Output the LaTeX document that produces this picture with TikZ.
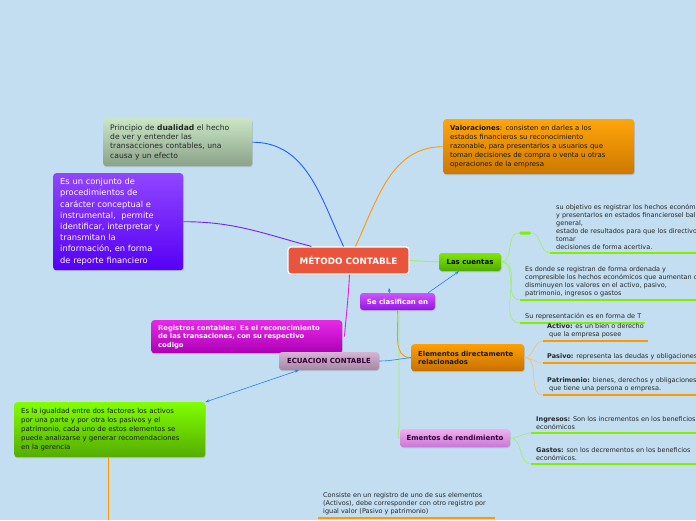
\documentclass[tikz,border=0pt]{standalone}
\usepackage{fontspec}
\setmainfont{DejaVu Sans}
\usetikzlibrary{calc,shadows,arrows.meta}

\definecolor{fondo}{RGB}{194,222,240}
\definecolor{rojo}{RGB}{232,85,60}
\definecolor{azul}{RGB}{32,96,255}
\definecolor{azulclaro}{RGB}{48,128,224}
\definecolor{violeta}{RGB}{122,32,240}
\definecolor{naranja}{RGB}{255,153,0}
\definecolor{naranjaclaro}{RGB}{248,192,112}
\definecolor{verde}{RGB}{128,240,0}
\definecolor{verdeclaro}{RGB}{160,240,96}
\definecolor{magenta}{RGB}{220,30,230}

\tikzset{
	caja/.style={rounded corners=3pt, anchor=north west, align=left, inner xsep=7pt, inner ysep=3pt,
		drop shadow={opacity=0.3, shadow xshift=0.6pt, shadow yshift=-1pt},
		font=\fontsize{6.9}{9}\selectfont},
	tema/.style={rounded corners=3pt, minimum height=18pt, inner sep=0pt,
		drop shadow={opacity=0.3, shadow xshift=0.6pt, shadow yshift=-1pt},
		font=\bfseries\fontsize{7}{8}\selectfont},
	nota/.style={anchor=south west, align=left, inner sep=0pt, text=black!85,
		font=\fontsize{6.5}{8}\selectfont},
	subraya/.style={line width=2pt},
	rama/.style={line width=0.6pt},
	enlace/.style={line width=0.9pt},
}

\begin{document}
\begin{tikzpicture}[x=1pt, y=-1pt]
	%%%%% START %%%%%
	
	\fill[fondo] (0,0) rectangle (696,520);
	\useasboundingbox (0,0) rectangle (696,520);
	
	%%%%% centro %%%%%
	\node[rounded corners=3pt, draw=white, line width=1.2pt, fill=rojo, text=white, minimum width=121pt, minimum height=27pt, inner sep=0pt,
		drop shadow={opacity=0.3, shadow xshift=0.6pt, shadow yshift=-1pt}, font=\bfseries\fontsize{8.8}{9}\selectfont] (metodo) at (348.5,260.5) {MÉTODO CONTABLE};
	
	%%%%% cajas %%%%%
	\node[caja, top color={rgb,255:red,202;green,230;blue,198}, bottom color={rgb,255:red,138;green,162;blue,136}, text=black!85, minimum width=147pt, minimum height=48pt, text width=135pt,
		font=\fontsize{7.6}{9.3}\selectfont] (dual) at (103,118) {Principio de \textbf{dualidad} el hecho\\de ver y entender las\\transacciones contables, una\\causa y un efecto};
	
	\node[caja, top color={rgb,255:red,145;green,70;blue,255}, bottom color={rgb,255:red,85;green,0;blue,245}, text=white, minimum width=126pt, minimum height=97pt, text width=116pt,
		font=\fontsize{8.3}{11.2}\selectfont] (conjunto) at (53,173) {Es un conjunto de\\procedimientos de\\carácter conceptual e\\instrumental,\ \ permite\\identificar, interpretar y\\transmitan la\\información, en forma\\de reporte financiero};
	
	\node[caja, top color={rgb,255:red,255;green,165;blue,10}, bottom color={rgb,255:red,205;green,120;blue,0}, text=black!90, minimum width=189pt, minimum height=55pt, text width=177pt] (valor) at (443,119) {\textbf{Valoraciones}: consisten en darles a los\\estados financieros su reconocimiento\\razonable, para presentarlos a usuarios que\\toman decisiones de compra o venta u otras\\operaciones de la empresa};
	
	\node[caja, top color={rgb,255:red,232;green,40;blue,232}, bottom color={rgb,255:red,172;green,0;blue,182}, text=white, minimum width=189pt, minimum height=33pt, text width=177pt,
		font=\bfseries\fontsize{6.8}{8.5}\selectfont] (registros) at (151,320) {Registros contables: Es el reconocimiento\\de las transaciones, con su respectivo\\codigo};
	
	\node[caja, top color={rgb,255:red,128;green,255;blue,0}, bottom color={rgb,255:red,85;green,172;blue,0}, text=black!90, minimum width=189pt, minimum height=55pt, text width=177pt] (igualdad) at (14,402) {Es la igualdad entre dos factores los activos\\por una parte y por otra los pasivos y el\\patrimonio, cada uno de estos elementos se\\puede analizarse y generar recomendaciones\\en la gerencia};
	
	\node[caja, top color={rgb,255:red,255;green,160;blue,0}, bottom color={rgb,255:red,200;green,112;blue,0}, text=black!90, minimum width=111pt, minimum height=27pt, text width=99pt,
		font=\bfseries\fontsize{6.9}{8.5}\selectfont] (elementos) at (411,344) {Elementos directamente\\relacionados};
	
	%%%%% temas %%%%%
	\node[tema, top color={rgb,255:red,128;green,232;blue,0}, bottom color={rgb,255:red,80;green,172;blue,0}, text=black, minimum width=62pt] (cuentas) at (470,262) {Las cuentas};
	\node[tema, top color={rgb,255:red,205;green,85;blue,255}, bottom color={rgb,255:red,150;green,20;blue,230}, text=white, minimum width=75pt, minimum height=17pt] (clasif) at (397.5,301.5) {Se clasifican en};
	\node[tema, top color={rgb,255:red,212;green,182;blue,212}, bottom color={rgb,255:red,165;green,135;blue,165}, text=violet!40!black, minimum width=100pt] (ecuacion) at (329,361) {ECUACION CONTABLE};
	\node[tema, top color={rgb,255:red,242;green,175;blue,242}, bottom color={rgb,255:red,200;green,120;blue,212}, text=violet!40!black, minimum width=110pt] (rendim) at (455,438) {Ementos de rendimiento};
	
	\node[rounded corners=1.5pt, fill=verde, minimum width=12pt, minimum height=3pt, inner sep=0pt] (marca) at (525,233) {};
	
	%%%%% enlaces del centro %%%%%
	\draw[enlace, azul] (dual.east) to[out=0, in=115] ($(metodo.north)+(-5,0)$);
	\draw[enlace, violeta] (conjunto.east) to[out=0, in=165] ($(metodo.north west)+(24,0)$);
	\draw[enlace, naranja] ($(metodo.north)+(7,0)$) to[out=65, in=180] (valor.west);
	\draw[enlace, verdeclaro] (metodo.east) -- (cuentas.west);
	\draw[enlace, magenta] ($(metodo.south)+(1,0)$) to[out=-93, in=85] ($(registros.east)+(2,0)$);
	
	\coordinate (punta) at (389,288);
	\draw[rama, azulclaro, -{Stealth[length=4pt]}] ($(clasif.north)+(-8,0)$) -- (punta);
	\draw[rama, azulclaro, -{Stealth[length=4pt]}] ($(clasif.north east)+(-7,0)$) -- ($(cuentas.south)+(-11,0)$);
	\draw[enlace, naranja] ($(clasif.south)+(0,0)$) to[out=-85, in=180] (elementos.west);
	\draw[enlace, verdeclaro] ($(clasif.south)+(1.5,0)$) -- ++(0,118) to[out=-90, in=180] (rendim.west);
	\draw[rama, azulclaro] (ecuacion.east) to[out=0, in=185] (elementos.west);
	\draw[rama, azulclaro, {Stealth[length=4pt]}-{Stealth[length=4pt]}] (igualdad.north east) -- ($(ecuacion.south west)+(20,0)$);
	\draw[enlace, naranja] ($(igualdad.south west)+(94,0)$) -- (108,520);
	
	%%%%% las cuentas %%%%%
	\coordinate (c1) at (550,253);
	\coordinate (c2) at (520,300);
	\coordinate (c3) at (520,323);
	\draw[rama, verdeclaro] (cuentas.east) to[out=0, in=180] (marca.west);
	\draw[rama, verdeclaro] (marca.east) to[out=0, in=180] (c1);
	\draw[rama, verdeclaro] (cuentas.east) to[out=0, in=180] (c2);
	\draw[rama, verdeclaro] (cuentas.east) to[out=0, in=180] (c3);
	\draw[subraya, verde] (c1) -- (696,253);
	\draw[subraya, verde] (c2) -- (696,300);
	\draw[subraya, verde] (c3) -- (645,323);
	\node[nota] (n1) at (556,250) {su objetivo es registrar los hechos económicos\\y presentarlos en estados financierosel balance\\general,\\estado de resultados para que los directivos\\tomar\\decisiones de forma acertiva.};
	\node[nota] (n2) at (525,297) {Es donde se registran de forma ordenada y\\compresible los hechos económicos que aumentan o\\disminuyen los valores en el activo, pasivo,\\patrimonio, ingresos o gastos};
	\node[nota] (n3) at (525,320) {Su representación es en forma de T};
	
	%%%%% elementos %%%%%
	\coordinate (e1) at (543,341);
	\coordinate (e2) at (543,363);
	\coordinate (e3) at (543,395);
	\foreach \e in {e1,e2,e3}
		\draw[rama, naranjaclaro] (elementos.east) to[out=0, in=180] (\e);
	\draw[subraya, naranja] (e1) -- (648,341);
	\draw[subraya, naranja] (e2) -- (696,363);
	\draw[subraya, naranja] (e3) -- (696,395);
	\node[nota] (activo) at (547,338) {\textbf{Activo:} es un bien o derecho\\\hspace*{2pt}que la empresa posee};
	\node[nota] (pasivo) at (547,360) {\textbf{Pasivo:} representa las deudas y obligaciones};
	\node[nota] (patrim) at (547,392) {\textbf{Patrimonio:} bienes, derechos y obligaciones\\\hspace*{2pt}que tiene una persona o empresa.};
	
	%%%%% rendimiento %%%%%
	\coordinate (r1) at (531,433);
	\coordinate (r2) at (531,464);
	\draw[rama, verdeclaro] (rendim.east) to[out=0, in=180] (r1);
	\draw[rama, verdeclaro] (rendim.east) to[out=0, in=180] (r2);
	\draw[subraya, verde] (r1) -- (696,433);
	\draw[subraya, verde] (r2) -- (696,464);
	\node[nota] (ingresos) at (536,430) {\textbf{Ingresos:} Son los incrementos en los beneficios\\económicos};
	\node[nota] (gastos) at (536,461) {\textbf{Gastos:} son los decrementos en los beneficios\\económicos.};
	
	%%%%% abajo %%%%%
	\coordinate (b1) at (318,518);
	\draw[line width=2.5pt, naranja] (b1) -- (495,518);
	\node[nota] (consiste) at (323,515) {Consiste en un registro de uno de sus elementos\\(Activos), debe corresponder con otro registro por\\igual valor (Pasivo y patrimonio)};
	
	%%%%% END %%%%%
\end{tikzpicture}
\end{document}
